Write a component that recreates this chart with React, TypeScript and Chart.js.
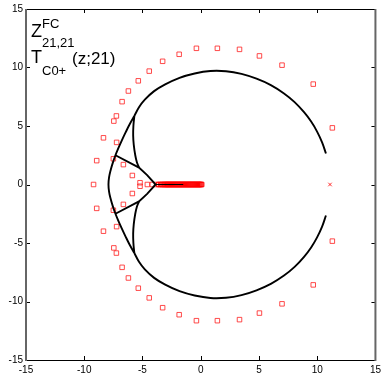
import React, { useEffect, useRef } from "react";
import { Chart, registerables } from "chart.js";

Chart.register(...registerables);

// Big arc, upper half (from right end to junction A)
const arcUpX = [10.75, 10.42, 9.99, 9.48, 8.87, 8.06, 7.15, 6.02, 4.79, 3.5, 2.17, 0.83, -0.52, -1.82, -3.05, -4.0, -4.8, -5.3, -5.7];
const arcUpY = [2.65, 3.6, 4.52, 5.38, 6.18, 7.04, 7.78, 8.49, 9.04, 9.45, 9.68, 9.7, 9.49, 9.12, 8.56, 7.98, 7.25, 6.6, 5.85];
// Big arc, lower half
const arcLoX = [10.75, 10.42, 9.99, 9.48, 8.87, 8.06, 7.15, 6.02, 4.79, 3.5, 2.17, 0.83, -0.52, -1.82, -3.05, -4.0, -4.8, -5.3, -5.7];
const arcLoY = [-2.65, -3.6, -4.52, -5.38, -6.18, -7.04, -7.78, -8.49, -9.04, -9.45, -9.68, -9.7, -9.49, -9.12, -8.56, -7.98, -7.25, -6.6, -5.85];

// Outer left arc A -> B -> leftmost -> B' -> A'
const leftX = [-5.7, -6.1, -6.45, -6.78, -7.07, -7.32, -7.55, -7.74, -7.87, -7.92, -7.87, -7.74, -7.55, -7.32, -7.07, -6.78, -6.45, -6.1, -5.7];
const leftY = [5.85, 5.15, 4.45, 3.75, 3.1, 2.5, 1.85, 1.2, 0.6, 0, -0.6, -1.2, -1.85, -2.5, -3.1, -3.75, -4.45, -5.15, -5.85];

// Inner arcs (black)
const innerUpX = [-5.7, -5.78, -5.8, -5.75, -5.62, -5.48, -5.3];
const innerUpY = [5.85, 5.0, 4.2, 3.4, 2.5, 1.9, 1.44];
const innerLoX = [-5.7, -5.78, -5.8, -5.75, -5.62, -5.48, -5.3];
const innerLoY = [-5.85, -5.0, -4.2, -3.4, -2.5, -1.9, -1.44];

// Wedge lines (black): B -> C -> D -> C' -> B'
const wedgeX = [-7.32, -5.3, -4.6, -3.87, -4.6, -5.3, -7.32];
const wedgeY = [2.5, 1.44, 0.8, 0, -0.8, -1.44, -2.5];

// Cut along the real axis (black)
const cutX = [-3.87, -1.5];
const cutY = [0, 0];

// Red squares (zeros)
const zerosX = [-1.85, -0.37, 1.43, 3.33, 5.04, 6.98, 9.66, 11.3, -3.27, -4.42, -5.36, -6.21, -6.75, -7.24, -7.46, -8.35, -7.22, -8.93, -7.5, -6.64, -5.87, -5.21,
  -1.85, -0.37, 1.43, 3.33, 5.04, 6.98, 9.66, 11.3, -3.27, -4.42, -5.36, -6.21, -6.75, -7.24, -7.46, -8.35, -7.22, -8.93, -7.5, -6.64, -5.87, -5.21,
  -9.2, -4.58, -4.16, -3.79];
const zerosY = [11.13, 11.64, 11.64, 11.55, 10.99, 10.2, 8.58, 4.84, 10.53, 9.69, 8.86, 7.99, 7.08, 5.86, 5.42, 3.99, 3.6, 2.04, 2.2, 1.7, 0.77, 0.15,
  -11.13, -11.64, -11.64, -11.55, -10.99, -10.2, -8.58, -4.84, -10.53, -9.69, -8.86, -7.99, -7.08, -5.86, -5.42, -3.99, -3.6, -2.04, -2.2, -1.7, -0.77, -0.15,
  0, 0, 0, 0];

// Dense zeros on the negative real axis
const axisZerosX = [-3.6, -3.45, -3.33, -3.22, -3.12, -3.03, -2.95, -2.87, -2.79, -2.71, -2.63, -2.55, -2.47, -2.39, -2.31, -2.23, -2.15, -2.07, -1.99, -1.91,
  -1.83, -1.75, -1.67, -1.59, -1.51, -1.43, -1.35, -1.27, -1.19, -1.11, -1.03, -0.95, -0.87, -0.79, -0.71, -0.63, -0.55, -0.47, -0.39, -0.31, -0.23, -0.15, -0.07, 0.01, 0.08];

// Cross marker
const crossX = [11.1];
const crossY = [0];

const xTicks = [-15, -10, -5, 0, 5, 10, 15];
const yTicks = [-15, -10, -5, 0, 5, 10, 15];

const pts = (xs: number[], ys: number[]) => xs.map((x, i) => ({ x, y: ys[i] }));

const framePlugin = {
  id: "frame",
  afterDraw(chart: any) {
    const { ctx, chartArea: a, scales } = chart;
    const xs = scales.x;
    const ys = scales.y;
    ctx.save();
    ctx.strokeStyle = "#000";
    ctx.lineWidth = 1;
    const tl = 4;
    ctx.beginPath();
    xTicks.forEach((t) => {
      const px = Math.round(xs.getPixelForValue(t)) + 0.5;
      ctx.moveTo(px, a.bottom);
      ctx.lineTo(px, a.bottom - tl);
      ctx.moveTo(px, a.top);
      ctx.lineTo(px, a.top + tl);
    });
    yTicks.forEach((t) => {
      const py = Math.round(ys.getPixelForValue(t)) + 0.5;
      ctx.moveTo(a.left, py);
      ctx.lineTo(a.left + tl, py);
      ctx.moveTo(a.right, py);
      ctx.lineTo(a.right - tl, py);
    });
    ctx.stroke();
    ctx.beginPath();
    ctx.moveTo(a.left, a.top + 0.5);
    ctx.lineTo(a.right, a.top + 0.5);
    ctx.moveTo(a.left, a.bottom + 0.5);
    ctx.lineTo(a.right, a.bottom + 0.5);
    ctx.stroke();
    ctx.strokeStyle = "#666";
    ctx.lineWidth = 2;
    ctx.beginPath();
    ctx.moveTo(a.left, a.top);
    ctx.lineTo(a.left, a.bottom + 1);
    ctx.moveTo(a.right, a.top);
    ctx.lineTo(a.right, a.bottom + 1);
    ctx.stroke();

    ctx.fillStyle = "#000";
    ctx.textBaseline = "alphabetic";
    ctx.textAlign = "left";
    const f = (s: number) => `${s}px "Liberation Sans", Arial, Helvetica, sans-serif`;
    ctx.font = f(18);
    ctx.fillText("Z", 31, 37);
    ctx.font = f(13);
    ctx.fillText("FC", 42, 28);
    ctx.fillText("21,21", 42, 47);
    ctx.font = f(18);
    ctx.fillText("T", 31, 63);
    ctx.font = f(13);
    ctx.fillText("C0+", 42, 75);
    ctx.font = f(17);
    ctx.fillText("(z;21)", 72, 64);
    ctx.restore();
  },
};

export default function App() {
  const ref = useRef<HTMLCanvasElement | null>(null);
  useEffect(() => {
    if (!ref.current) return;
    const lineDs = (xs: number[], ys: number[], tension = 0.4) => ({
      data: pts(xs, ys),
      showLine: true,
      borderColor: "#000",
      borderWidth: 1.9,
      pointRadius: 0,
      pointHoverRadius: 0,
      fill: false,
      tension,
    });
    const sq = (data: any[], color: string) => ({
      data,
      pointStyle: "rect",
      pointRadius: 3.2,
      borderColor: color,
      backgroundColor: "rgba(0,0,0,0)",
      borderWidth: 1,
      showLine: false,
    });
    const chart = new Chart(ref.current, {
      type: "scatter",
      data: {
        datasets: [
          lineDs(arcUpX, arcUpY),
          lineDs(arcLoX, arcLoY),
          lineDs(leftX, leftY),
          lineDs(innerUpX, innerUpY),
          lineDs(innerLoX, innerLoY),
          lineDs(wedgeX, wedgeY, 0),
          { ...lineDs(cutX, cutY, 0), borderWidth: 1 },
          sq(axisZerosX.map((x) => ({ x, y: 0 })), "rgb(255,0,0)"),
          sq(pts(zerosX, zerosY), "rgba(255,30,30,0.8)"),
          {
            data: pts(crossX, crossY),
            pointStyle: "crossRot",
            pointRadius: 2.5,
            borderColor: "rgba(255,0,0,0.8)",
            borderWidth: 1,
            showLine: false,
          },
        ] as any,
      },
      options: {
        animation: false,
        responsive: false,
        maintainAspectRatio: false,
        layout: { padding: { top: 8, right: 8, left: 0, bottom: 0 } },
        plugins: { legend: { display: false }, tooltip: { enabled: false } },
        scales: {
          x: {
            type: "linear",
            min: -15,
            max: 15,
            afterFit: (s: any) => {
              s.height = 18;
            },
            afterBuildTicks: (s: any) => {
              s.ticks = xTicks.map((v) => ({ value: v }));
            },
            grid: { display: false, drawTicks: false },
            border: { display: false },
            ticks: {
              color: "#000",
              padding: 4,
              maxRotation: 0,
              font: { family: '"Liberation Sans", Arial, sans-serif', size: 10 },
            },
          },
          y: {
            type: "linear",
            min: -15,
            max: 15,
            afterFit: (s: any) => {
              s.width = 26;
            },
            afterBuildTicks: (s: any) => {
              s.ticks = yTicks.map((v) => ({ value: v }));
            },
            grid: { display: false, drawTicks: false },
            border: { display: false },
            ticks: {
              color: "#000",
              padding: 3,
              font: { family: '"Liberation Sans", Arial, sans-serif', size: 10 },
            },
          },
        },
      },
      plugins: [framePlugin],
    });
    return () => chart.destroy();
  }, []);
  return (
    <div style={{ position: "fixed", left: 0, top: 0, width: 385, height: 378, background: "#fff" }}>
      <canvas ref={ref} width={385} height={378} style={{ width: 385, height: 378, display: "block" }} />
    </div>
  );
}
